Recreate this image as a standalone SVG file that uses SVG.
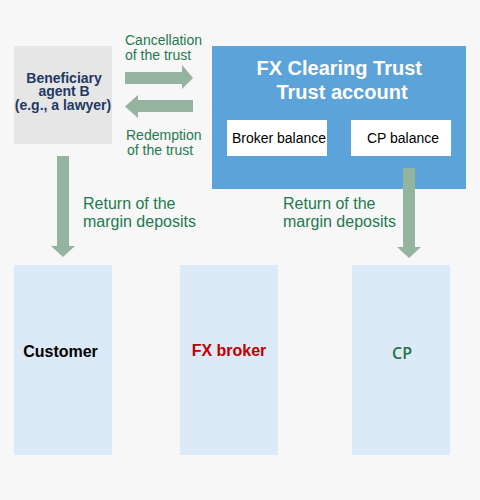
<svg xmlns="http://www.w3.org/2000/svg" width="480" height="500" viewBox="0 0 480 500">
<style>
.lbl{font-family:"Liberation Sans",Arial,sans-serif;fill:#1f7a50}
.s14{font-size:14px}
.s16{font-size:16px}
.arr{fill:#94b4a0}
.bot{fill:#dce9f6}
.bal{fill:#ffffff}
.balt{font-family:"Liberation Sans",Arial,sans-serif;font-size:14px;fill:#000;text-anchor:middle}
</style>
<rect x="0" y="0" width="480" height="500" fill="#f7f7f7"/>
<g id="beneficiary">
<rect x="14" y="46" width="98" height="98" fill="#e6e6e6"/>
<text font-family="'Liberation Sans',Arial,sans-serif" font-size="14" font-weight="bold" fill="#1f3864" text-anchor="middle">
<tspan x="66" y="82.5">Beneficiary</tspan>
<tspan x="66" y="96">agent B</tspan>
<tspan x="63" y="109.5">(e.g., a lawyer)</tspan>
</text>
</g>
<g id="trust">
<rect x="212" y="46" width="254" height="143" fill="#5ba3d9"/>
<text font-family="'Liberation Sans',Arial,sans-serif" font-size="20" font-weight="bold" fill="#ffffff" text-anchor="middle">
<tspan x="342" y="75">FX Clearing Trust</tspan>
<tspan x="342" y="99">Trust account</tspan>
</text>
</g>
<g id="broker-balance">
<rect class="bal" x="227" y="120" width="100" height="36"/>
<text class="balt" x="279" y="143">Broker balance</text>
</g>
<g id="cp-balance">
<rect class="bal" x="351" y="120" width="100" height="36"/>
<text class="balt" x="403" y="143">CP balance</text>
</g>
<g id="customer">
<rect class="bot" x="14" y="265" width="98" height="190"/>
<text x="60.5" y="357" font-family="'Liberation Sans',Arial,sans-serif" font-size="16" font-weight="bold" fill="#000" text-anchor="middle">Customer</text>
</g>
<g id="fx-broker">
<rect class="bot" x="180" y="265" width="98" height="190"/>
<text x="229" y="356" font-family="'Liberation Sans',Arial,sans-serif" font-size="16" font-weight="bold" fill="#c00000" text-anchor="middle">FX broker</text>
</g>
<g id="cp">
<rect class="bot" x="352" y="265" width="98" height="190"/>
<text x="402" y="359" font-family="'Open Sans',sans-serif" font-size="16" font-weight="600" fill="#217346" text-anchor="middle">CP</text>
</g>
<g id="connectors">
<polygon class="arr" points="125,72 182,72 182,65 193,78 182,89 182,84 125,84"/>
<polygon class="arr" points="193,100 138,100 138,95 125,106.5 138,118 138,112 193,112"/>
<polygon class="arr" points="57,156 69,156 69,246 75,246 63,257 51,246 57,246"/>
<polygon class="arr" points="403,168 415,168 415,247 421,247 409,258 397,247 403,247"/>
<text class="lbl s14"><tspan x="125" y="45">Cancellation</tspan><tspan x="125" y="60">of the trust</tspan></text>
<text class="lbl s14"><tspan x="126" y="140">Redemption</tspan><tspan x="127" y="155">of the trust</tspan></text>
<text class="lbl s16"><tspan x="83" y="209">Return of the</tspan><tspan x="83" y="227">margin deposits</tspan></text>
<text class="lbl s16"><tspan x="283" y="209">Return of the</tspan><tspan x="283" y="227">margin deposits</tspan></text>
</g>
</svg>
